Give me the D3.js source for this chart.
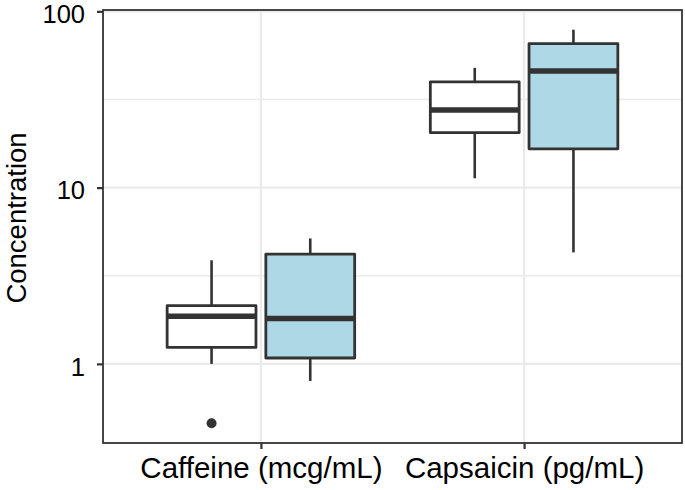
<!DOCTYPE html>
<html>
<head>
<meta charset="utf-8">
<script src="https://cdn.jsdelivr.net/npm/d3@7"></script>
<style>
  html, body { margin: 0; padding: 0; background: #fff; }
  svg { display: block; }
  text { font-family: "Liberation Sans", Arial, sans-serif; }
</style>
</head>
<body>
<svg id="chart" width="685" height="490"></svg>
<script>
// ---- data ----
const categories = ["Caffeine (mcg/mL)", "Capsaicin (pg/mL)"];
const groups = ["Group 1", "Group 2"];
const groupFill = ["#FFFFFF", "#ADD8E6"];
// one entry per box: [category index, group index]
const boxCategory = [0, 0, 1, 1];
const boxGroup = [0, 1, 0, 1];
const whiskerLow  = [1.00, 0.80, 11.3, 4.29];
const q1          = [1.24, 1.08, 20.5, 16.6];
const median      = [1.86, 1.81, 27.6, 45.9];
const q3          = [2.14, 4.19, 39.8, 65.6];
const whiskerHigh = [3.87, 5.15, 47.8, 78.7];
const outlierCategory = [0];
const outlierGroup = [0];
const outlierValue = [0.46];
const yTicks = [1, 10, 100];
const yMinor = [Math.sqrt(10), Math.sqrt(1000)];
const yTitle = "Concentration";

// ---- layout ----
const W = 685, H = 490;
const panel = { left: 103, right: 682, top: 10, bottom: 443 };
const ink = "#333333";
const gridCol = "#EBEBEB";

const svg = d3.select("#chart");

// y: log scale with ggplot-style 5% expansion
const allVals = whiskerLow.concat(whiskerHigh, outlierValue);
const lo = Math.log10(d3.min(allVals)), hi = Math.log10(d3.max(allVals));
const r = hi - lo;
const y = d3.scaleLog()
  .domain([Math.pow(10, lo - 0.05 * r), Math.pow(10, hi + 0.05 * r)])
  .range([panel.bottom, panel.top]);

const x = d3.scalePoint().domain(categories).range([panel.left, panel.right]).padding(0.6);
const step = x.step();
const dodge = d3.scaleBand().domain(groups).range([-0.375 * step, 0.375 * step]);
const boxW = dodge.bandwidth() * 0.9;
const cx = i => x(categories[boxCategory[i]]) + dodge(groups[boxGroup[i]]) + dodge.bandwidth() / 2;

// panel background
svg.append("rect").attr("x", panel.left).attr("y", panel.top)
  .attr("width", panel.right - panel.left).attr("height", panel.bottom - panel.top)
  .attr("fill", "#fff");

// grid
const g = svg.append("g");
yMinor.forEach(v => {
  const yy = y(v);
  if (yy > panel.top && yy < panel.bottom)
    g.append("line").attr("x1", panel.left).attr("x2", panel.right)
      .attr("y1", yy).attr("y2", yy).attr("stroke", gridCol).attr("stroke-width", 1.3);
});
yTicks.forEach(v => {
  g.append("line").attr("x1", panel.left).attr("x2", panel.right)
    .attr("y1", y(v)).attr("y2", y(v)).attr("stroke", gridCol).attr("stroke-width", 2.4);
});
categories.forEach(c => {
  g.append("line").attr("x1", x(c)).attr("x2", x(c))
    .attr("y1", panel.top).attr("y2", panel.bottom).attr("stroke", gridCol).attr("stroke-width", 2.4);
});

// boxes
const boxes = svg.append("g");
whiskerLow.forEach((_, i) => {
  const c = cx(i);
  boxes.append("line").attr("x1", c).attr("x2", c)
    .attr("y1", y(whiskerHigh[i])).attr("y2", y(q3[i]))
    .attr("stroke", ink).attr("stroke-width", 2.6);
  boxes.append("line").attr("x1", c).attr("x2", c)
    .attr("y1", y(q1[i])).attr("y2", y(whiskerLow[i]))
    .attr("stroke", ink).attr("stroke-width", 2.6);
  boxes.append("rect").attr("x", c - boxW / 2).attr("y", y(q3[i]))
    .attr("width", boxW).attr("height", y(q1[i]) - y(q3[i]))
    .attr("fill", groupFill[boxGroup[i]]).attr("stroke", ink).attr("stroke-width", 2.8)
    .attr("stroke-linejoin", "round");
  boxes.append("line").attr("x1", c - boxW / 2).attr("x2", c + boxW / 2)
    .attr("y1", y(median[i])).attr("y2", y(median[i]))
    .attr("stroke", ink).attr("stroke-width", 5.5);
});
outlierValue.forEach((v, k) => {
  const c = x(categories[outlierCategory[k]]) + dodge(groups[outlierGroup[k]]) + dodge.bandwidth() / 2;
  boxes.append("circle").attr("cx", c).attr("cy", y(v)).attr("r", 5).attr("fill", ink);
});

// panel border
svg.append("rect").attr("x", panel.left).attr("y", panel.top)
  .attr("width", panel.right - panel.left).attr("height", panel.bottom - panel.top)
  .attr("fill", "none").attr("stroke", ink).attr("stroke-width", 1.8);

// y axis
const yAxis = d3.axisLeft(y).tickValues(yTicks).tickFormat(d3.format("d")).tickSize(6).tickPadding(12);
const ya = svg.append("g").attr("transform", `translate(${panel.left},0)`).call(yAxis);
ya.select(".domain").remove();
ya.selectAll(".tick line").attr("stroke", ink).attr("stroke-width", 2.2);
ya.selectAll(".tick text").attr("fill", "#000").style("font-size", "25.5px")
  .attr("dy", "0.44em");

// x axis
const xAxis = d3.axisBottom(x).tickSize(6).tickPadding(8);
const xa = svg.append("g").attr("transform", `translate(0,${panel.bottom})`).call(xAxis);
xa.select(".domain").remove();
xa.selectAll(".tick line").attr("stroke", ink).attr("stroke-width", 2.2);
xa.selectAll(".tick text").attr("fill", "#000").style("font-size", "29.5px")
  .attr("dy", "0.71em");

// y title
svg.append("text")
  .attr("transform", `translate(25.5,218) rotate(-90)`)
  .attr("text-anchor", "middle").attr("fill", "#000")
  .style("font-size", "27.5px").text(yTitle);
</script>
</body>
</html>
